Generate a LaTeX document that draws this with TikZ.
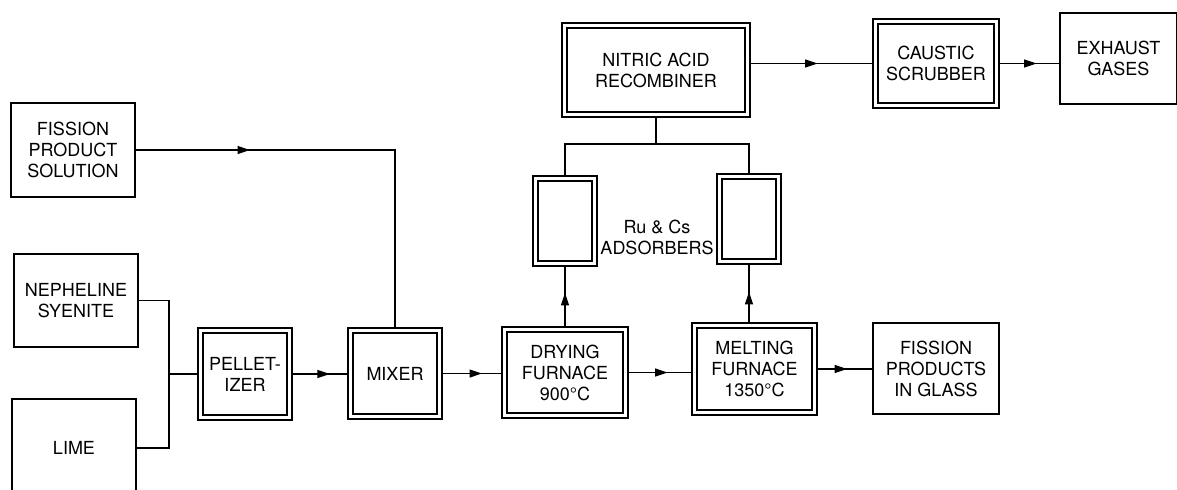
\documentclass[tikz,border=0pt]{standalone}
\usepackage{fontspec}
\setmainfont{TeX Gyre Heros}
\usetikzlibrary{arrows.meta,positioning,calc,decorations.markings}

\begin{document}
\begin{tikzpicture}[
  x=0.6pt, y=-0.6pt,
  line width=0.7pt,
  every node/.style={font=\fontsize{10.8}{12.6}\selectfont,align=center,inner sep=0pt},
  feed/.style 2 args={rectangle,draw,minimum width=#1,minimum height=#2},
  vessel/.style 2 args={rectangle,draw,double,double distance=2.3pt,
                        outer sep=1.85pt,minimum width=#1,minimum height=#2},
  flow/.style={postaction={decorate,decoration={markings,
               mark=at position #1 with {\arrow{Triangle[length=7.5pt,width=4.8pt]}}}}},
  flow/.default=0.6
]
\useasboundingbox (0,0) rectangle (1177,489);

\node[feed={74.4pt}{56.4pt}]    (fps)     at (73,150)     {FISSION\\PRODUCT\\SOLUTION};
\node[feed={74.4pt}{55.8pt}]    (neph)    at (76,300.5)   {NEPHELINE\\SYENITE};
\node[feed={74.4pt}{58.8pt}]    (lime)    at (74,448)     {LIME};
\node[vessel={53.4pt}{52.2pt}]  (pell)    at (245,374)    {PELLET-\\IZER};
\node[vessel={53.4pt}{51.6pt}]  (mixer)   at (395,373.5)  {MIXER};
\node[vessel={72.6pt}{51.6pt}]  (dry)     at (565,372.5)  {DRYING\\FURNACE\\900°C};
\node[vessel={72pt}{52.2pt}]    (melt)    at (754.5,369)  {MELTING\\FURNACE\\1350°C};
\node[feed={75.6pt}{54.6pt}]    (glass)   at (936,368.5)  {FISSION\\PRODUCTS\\IN GLASS};
\node[vessel={35.4pt}{51pt}]    (ads1)    at (565,221)    {};
\node[vessel={35.4pt}{51pt}]    (ads2)    at (749,219)    {};
\node                           (adslbl)  at (657,237)    {Ru \& Cs\\ADSORBERS};
\node[vessel={109.8pt}{53.4pt}] (nitric)  at (656,70)     {NITRIC ACID\\RECOMBINER};
\node[vessel={72.6pt}{50.4pt}]  (caustic) at (936,63.5)   {CAUSTIC\\SCRUBBER};
\node[feed={70.2pt}{54.6pt}]    (exhaust) at (1118.5,58.5) {EXHAUST\\GASES};

\coordinate (merge) at (169,374);
\coordinate (split) at (656,144);

\draw (neph.east) -| (merge) |- (lime.east);
\draw (merge) -- (pell.west |- merge);
\draw[flow=0.68] (pell.east) -- (pell.east -| mixer.west);
\draw[flow=0.262] (fps.east) -| (mixer.north);
\draw[flow=0.67] (mixer.east) -- (mixer.east -| dry.west);
\draw[flow=0.62] (dry.east) -- (dry.east -| melt.west);
\draw[flow=0.54] (melt.east) -- (melt.east -| glass.west);
\draw[flow=0.56] (dry.north) -- (ads1.south);
\draw[flow=0.53] (ads2.south |- melt.north) -- (ads2.south);
\draw (nitric.south) -- (split);
\draw (ads1.north) |- (split) -| (ads2.north);
\draw[flow=0.55] (nitric.east |- caustic.west) -- (caustic.west);
\draw[flow=0.62] (caustic.east) -- (caustic.east -| exhaust.west);
\end{tikzpicture}
\end{document}
